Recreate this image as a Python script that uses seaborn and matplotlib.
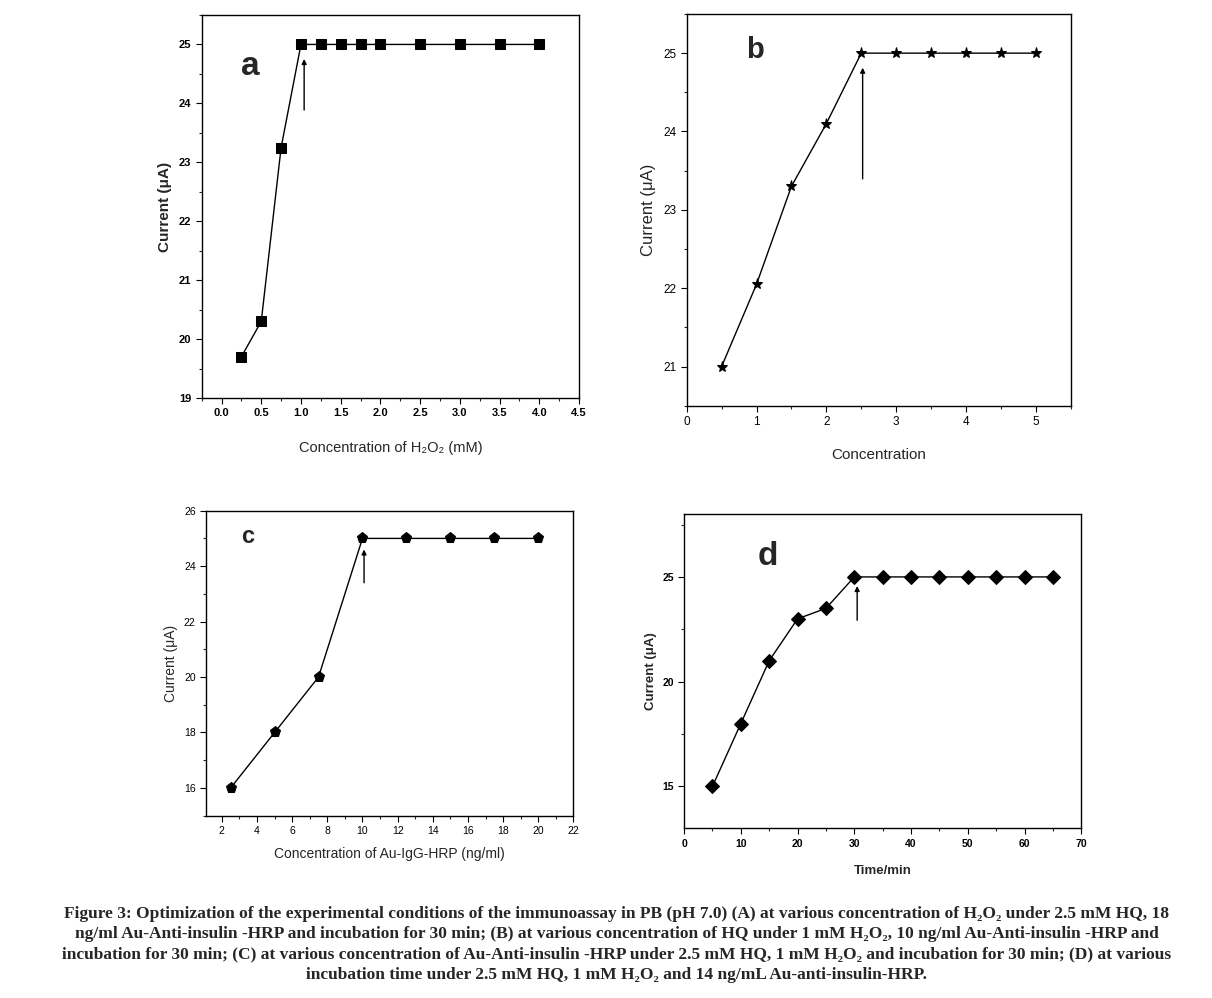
import matplotlib
matplotlib.use('Agg')
import matplotlib.pyplot as plt
import seaborn as sns
from matplotlib.ticker import MultipleLocator

# panel a: H2O2 concentration
a_x = [0.25, 0.5, 0.75, 1.0, 1.25, 1.5, 1.75, 2.0, 2.5, 3.0, 3.5, 4.0]
a_y = [19.7, 20.3, 23.25, 25, 25, 25, 25, 25, 25, 25, 25, 25]
# panel b: HQ concentration
b_x = [0.5, 1, 1.5, 2, 2.5, 3, 3.5, 4, 4.5, 5]
b_y = [21.0, 22.05, 23.3, 24.1, 25, 25, 25, 25, 25, 25]
# panel c: Au-IgG-HRP concentration
c_x = [2.5, 5, 7.5, 10, 12.5, 15, 17.5, 20]
c_y = [16, 18, 20, 25, 25, 25, 25, 25]
# panel d: incubation time
d_x = [5, 10, 15, 20, 25, 30, 35, 40, 45, 50, 55, 60, 65]
d_y = [15, 18, 21, 23, 23.5, 25, 25, 25, 25, 25, 25, 25, 25]

caption = ("Figure 3: Optimization of the experimental conditions of the immunoassay in PB (pH 7.0) (A) at various concentration of H\u2082O\u2082 under 2.5 mM HQ, 18\n"
           "ng/ml Au-Anti-insulin -HRP and incubation for 30 min; (B) at various concentration of HQ under 1 mM H\u2082O\u2082, 10 ng/ml Au-Anti-insulin -HRP and\n"
           "incubation for 30 min; (C) at various concentration of Au-Anti-insulin -HRP under 2.5 mM HQ, 1 mM H\u2082O\u2082 and incubation for 30 min; (D) at various\n"
           "incubation time under 2.5 mM HQ, 1 mM H\u2082O\u2082 and 14 ng/mL Au-anti-insulin-HRP.")

sns.set_style('ticks')
plt.rcParams['font.family'] = ['Liberation Sans', 'DejaVu Sans']

fig = plt.figure(figsize=(12.12, 9.98), dpi=100)
ax_a = fig.add_axes([0.1664, 0.6012, 0.3113, 0.3838])
ax_b = fig.add_axes([0.5666, 0.5935, 0.3168, 0.3925])
ax_c = fig.add_axes([0.1700, 0.1827, 0.3031, 0.3056])
ax_d = fig.add_axes([0.5644, 0.1700, 0.3278, 0.3149])


def style(ax, fs, bold=False):
    for s in ax.spines.values():
        s.set_visible(True)
        s.set_color('black')
        s.set_linewidth(1.0)
    ax.tick_params(which='major', direction='out', length=4, width=0.8, labelsize=fs, colors='black')
    ax.tick_params(which='minor', direction='out', length=2.5, width=0.8)
    if bold:
        for t in ax.get_xticklabels() + ax.get_yticklabels():
            t.set_fontweight('bold')


def arrow(ax, x, y0, y1):
    ax.annotate('', xy=(x, y1), xytext=(x, y0),
                arrowprops=dict(arrowstyle='-|>', color='black', lw=1.0, mutation_scale=7))


# a
sns.lineplot(x=a_x, y=a_y, ax=ax_a, color='black', marker='s', markersize=7,
             markeredgecolor='black', linewidth=1.0)
ax_a.set_ylim(19, 25.5)
ax_a.xaxis.set_minor_locator(MultipleLocator(0.25))
ax_a.yaxis.set_major_locator(MultipleLocator(1))
ax_a.yaxis.set_minor_locator(MultipleLocator(0.5))
ax_a.set_xticks([x * 0.5 for x in range(10)])
ax_a.set_xticklabels([f'{x * 0.5:.1f}' for x in range(10)])
ax_a.set_xlim(-0.25, 4.5)
style(ax_a, 8, bold=True)
ax_a.set_xlabel('Concentration of H\u2082O\u2082 (mM)', fontsize=10.5, labelpad=16)
ax_a.set_ylabel('Current (\u03bcA)', fontsize=11, fontweight='bold', labelpad=5)
ax_a.text(0.36, 24.63, 'a', fontsize=24, fontweight='bold', ha='center', va='center')
arrow(ax_a, 1.04, 23.84, 24.8)

# b
sns.lineplot(x=b_x, y=b_y, ax=ax_b, color='black', marker='*', markersize=8,
             markeredgecolor='black', linewidth=1.0)
ax_b.set_xlim(0, 5.5)
ax_b.set_ylim(20.5, 25.5)
ax_b.xaxis.set_major_locator(MultipleLocator(1))
ax_b.xaxis.set_minor_locator(MultipleLocator(0.5))
ax_b.yaxis.set_major_locator(MultipleLocator(1))
ax_b.yaxis.set_minor_locator(MultipleLocator(0.5))
style(ax_b, 8.5)
ax_b.set_xlabel('Concentration', fontsize=11, labelpad=14)
ax_b.set_ylabel('Current (\u03bcA)', fontsize=12, labelpad=5)
ax_b.text(0.98, 25.04, 'b', fontsize=21, fontweight='bold', ha='center', va='center')
arrow(ax_b, 2.52, 23.36, 24.85)

# c
sns.lineplot(x=c_x, y=c_y, ax=ax_c, color='black', marker='p', markersize=8,
             markeredgecolor='black', linewidth=1.0)
ax_c.set_xlim(1.1, 22)
ax_c.set_ylim(15, 26)
ax_c.xaxis.set_major_locator(MultipleLocator(2))
ax_c.xaxis.set_minor_locator(MultipleLocator(1))
ax_c.yaxis.set_major_locator(MultipleLocator(2))
ax_c.yaxis.set_minor_locator(MultipleLocator(1))
style(ax_c, 7.5)
ax_c.set_xlabel('Concentration of Au-IgG-HRP (ng/ml)', fontsize=10, labelpad=8)
ax_c.set_ylabel('Current (\u03bcA)', fontsize=10, labelpad=4)
ax_c.text(3.45, 25.06, 'c', fontsize=17, fontweight='bold', ha='center', va='center')
arrow(ax_c, 10.09, 23.3, 24.7)

# d
sns.lineplot(x=d_x, y=d_y, ax=ax_d, color='black', marker='D', markersize=7,
             markeredgecolor='black', linewidth=1.0)
ax_d.set_xlim(0, 70)
ax_d.set_ylim(13, 28)
ax_d.xaxis.set_major_locator(MultipleLocator(10))
ax_d.xaxis.set_minor_locator(MultipleLocator(5))
ax_d.yaxis.set_major_locator(MultipleLocator(5))
ax_d.yaxis.set_minor_locator(MultipleLocator(2.5))
style(ax_d, 7.5, bold=True)
ax_d.set_xlabel('Time/min', fontsize=9.5, fontweight='bold', labelpad=12)
ax_d.set_ylabel('Current (\u03bcA)', fontsize=9.5, fontweight='bold', labelpad=4)
ax_d.text(14.7, 25.97, 'd', fontsize=24, fontweight='bold', ha='center', va='center')
arrow(ax_d, 30.5, 22.8, 24.7)

fig.text(0.509, 0.054, caption, ha='center', va='center', multialignment='center',
         fontsize=12.5, fontweight='bold', family=['Liberation Serif', 'DejaVu Serif'],
         linespacing=1.36)

fig.savefig('out.png', dpi=100, facecolor='white')
